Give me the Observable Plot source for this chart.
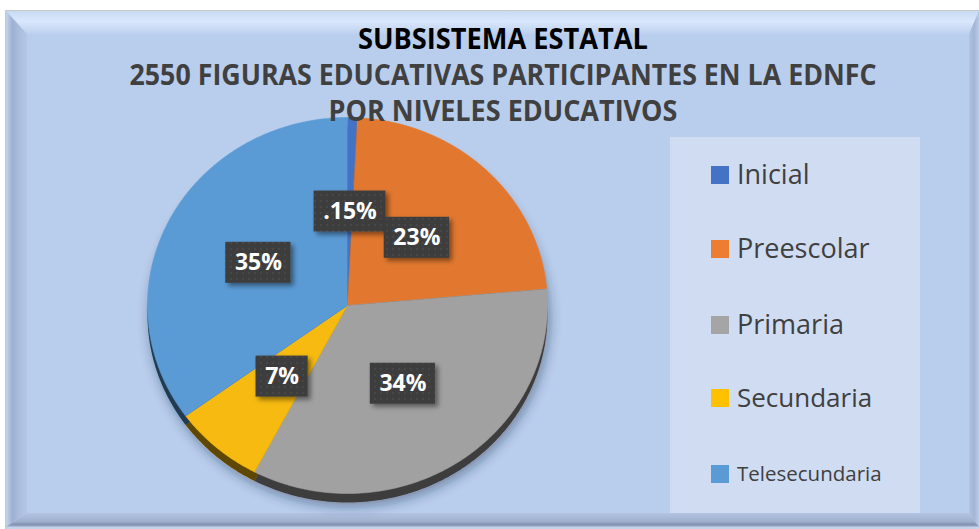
<!DOCTYPE html>
<html><head><meta charset="utf-8">
<script src="https://cdn.jsdelivr.net/npm/d3@7"></script>
<script src="https://cdn.jsdelivr.net/npm/@observablehq/plot@0.6"></script>
<style>
html,body{margin:0;padding:0;background:#fff;}
#chart{position:relative;width:979px;height:529px;overflow:hidden;}
#chart svg{position:absolute;left:0;top:0;}
</style></head><body><div id="chart"></div>
<script>
// ---- data ----
const categories = ["Inicial", "Preescolar", "Primaria", "Secundaria", "Telesecundaria"];
const shares = [0.8, 22.8, 34.1, 7.3, 35.0];            // slice sizes (%)
const labels = [".15%", "23%", "34%", "7%", "35%"];     // data label texts as printed
const legendColors = ["#4472c4", "#ed7d31", "#a5a5a5", "#ffc000", "#5b9bd5"];
const sliceColors = ["#4472c4", "#e2782f", "#a1a1a1", "#f6ba10", "#5b9bd5"];
const titleLines = ["SUBSISTEMA ESTATAL", "2550 FIGURAS EDUCATIVAS PARTICIPANTES EN LA EDNFC", "POR NIVELES EDUCATIVOS"];

const NS = "http://www.w3.org/2000/svg";
const chart = document.getElementById("chart");
function el(tag, attrs, parent) {
  const e = document.createElementNS(NS, tag);
  for (const k in attrs) e.setAttribute(k, attrs[k]);
  if (parent) parent.appendChild(e);
  return e;
}

// ---- background layer (frame, bevel, legend) ----
const bg = el("svg", {width: 979, height: 529, viewBox: "0 0 979 529"}, chart);
const bgDefs = el("defs", {}, bg);
function lin(id, x1, y1, x2, y2, stops) {
  const g = el("linearGradient", {id, x1, y1, x2, y2}, bgDefs);
  stops.forEach(([o, c]) => el("stop", {offset: o, "stop-color": c}, g));
}
lin("gTop", 0, 0, 0, 1, [[0, "#c9daf4"], [0.45, "#d9e7fb"], [1, "#bdd0ee"]]);
lin("gLeft", 0, 0, 1, 0, [[0, "#c4d5f0"], [0.3, "#9fb1d0"], [0.6, "#aabcdc"], [1, "#b4c7e6"]]);
lin("gBottom", 0, 0, 0, 1, [[0, "#b2c4e2"], [0.6, "#9fb1cf"], [0.85, "#7f90ae"], [1, "#b6c8e6"]]);
lin("gRight", 0, 0, 1, 0, [[0, "#b0c3e2"], [0.5, "#a3b5d4"], [1, "#b8cbea"]]);

el("rect", {x: 0, y: 0, width: 979, height: 529, fill: "#ffffff"}, bg);
el("rect", {x: 5, y: 10, width: 974, height: 519, fill: "#c8c8c8"}, bg);
const O = {x0: 6, y0: 11, x1: 979, y1: 527};
const I = {x0: 27, y0: 34, x1: 969, y1: 513};
el("rect", {x: O.x0, y: O.y0, width: O.x1 - O.x0, height: O.y1 - O.y0, fill: "#b9cdec"}, bg);
el("polygon", {points: `${O.x0},${O.y0} ${O.x1},${O.y0} ${I.x1},${I.y0} ${I.x0},${I.y0}`, fill: "url(#gTop)"}, bg);
el("polygon", {points: `${O.x0},${O.y0} ${I.x0},${I.y0} ${I.x0},${I.y1} ${O.x0},${O.y1}`, fill: "url(#gLeft)"}, bg);
el("polygon", {points: `${O.x0},${O.y1} ${I.x0},${I.y1} ${I.x1},${I.y1} ${O.x1},${O.y1}`, fill: "url(#gBottom)"}, bg);
el("polygon", {points: `${O.x1},${O.y0} ${O.x1},${O.y1} ${I.x1},${I.y1} ${I.x1},${I.y0}`, fill: "url(#gRight)"}, bg);
el("rect", {x: I.x0, y: I.y0, width: I.x1 - I.x0, height: I.y1 - I.y0, fill: "#b9cdec"}, bg);
el("rect", {x: O.x0, y: 527, width: 973, height: 2, fill: "#c4d3ea"}, bg);

// legend box + entries
el("rect", {x: 670, y: 137, width: 250, height: 376, fill: "#cfdcf2"}, bg);
const legendY = [175, 249, 325, 398, 474];
const legendSize = [27, 27, 27, 26, 20.5];
categories.forEach((c, i) => {
  el("rect", {x: 711, y: legendY[i] - 9, width: 18, height: 18, fill: legendColors[i]}, bg);
  const t = el("text", {x: 737, y: legendY[i], dy: "0.35em", fill: "#404040",
    "font-family": "Open Sans, sans-serif", "font-size": legendSize[i]}, bg);
  t.textContent = c;
});

// ---- pie (Observable Plot) ----
const rows = categories.map((name, i) => ({name, share: shares[i], label: labels[i]}));
const arcs = d3.pie().sort(null).value(d => d.share)(rows);
const slicePts = [];
const labelRows = [];
arcs.forEach(a => {
  const name = a.data.name;
  slicePts.push({name, x: 0, y: 0});
  const n = Math.max(2, Math.ceil((a.endAngle - a.startAngle) / 0.01));
  for (let k = 0; k <= n; k++) {
    const t = a.startAngle + (a.endAngle - a.startAngle) * k / n;
    slicePts.push({name, x: Math.sin(t), y: Math.cos(t)});
  }
  const m = (a.startAngle + a.endAngle) / 2;
  labelRows.push({name, label: a.data.label, lx: 0.5 * Math.sin(m), ly: 0.5 * Math.cos(m)});
});

const plot = Plot.plot({
  width: 979, height: 529, margin: 0,
  x: {domain: [-1, 1], range: [147, 547], axis: null},
  y: {domain: [-1, 1], range: [493, 117], axis: null},
  color: {domain: categories, range: sliceColors},
  style: {background: "transparent", overflow: "visible"},
  marks: [
    Plot.line(slicePts, {x: "x", y: "y", z: "name", fill: "name", stroke: "none", dy: 9}),
    Plot.line(slicePts, {x: "x", y: "y", z: "name", fill: "#000", fillOpacity: 0.62, stroke: "none", dy: 9}),
    Plot.line(slicePts, {x: "x", y: "y", z: "name", fill: "name", stroke: "name", strokeWidth: 0.6}),
    Plot.text(labelRows, {x: "lx", y: "ly", text: "label", fill: "white", fontSize: 23,
      fontWeight: "bold", fontFamily: "Open Sans, sans-serif"})
  ]
});
chart.appendChild(plot);

// defs for shadows and box pattern
const pd = el("defs", {}, null);
plot.insertBefore(pd, plot.firstChild);
pd.innerHTML = `
<filter id="pieShadow" x="-20%" y="-20%" width="140%" height="140%">
  <feDropShadow dx="2" dy="4" stdDeviation="6" flood-color="#1a2a4a" flood-opacity="0.45"/>
</filter>
<filter id="boxShadow" x="-30%" y="-30%" width="160%" height="170%">
  <feDropShadow dx="3" dy="3" stdDeviation="2.5" flood-color="#000" flood-opacity="0.45"/>
</filter>
<pattern id="dots" width="6" height="6" patternUnits="userSpaceOnUse">
  <rect width="6" height="6" fill="#3d3d3d"/>
  <circle cx="3" cy="3" r="0.8" fill="#545454"/>
</pattern>`;

const lineGroups = plot.querySelectorAll('g[aria-label="line"]');
if (lineGroups[0]) lineGroups[0].setAttribute("filter", "url(#pieShadow)");

// label boxes behind the label texts
const textGroup = plot.querySelector('g[aria-label="text"]');
if (textGroup) {
  const sx = plot.scale("x"), sy = plot.scale("y");
  const boxes = el("g", {"aria-label": "label boxes"}, null);
  textGroup.parentNode.insertBefore(boxes, textGroup);
  const texts = textGroup.querySelectorAll("text");
  texts.forEach((t, i) => {
    const w = t.getBBox().width + 18;
    const cx = sx.apply(labelRows[i].lx), cy = sy.apply(labelRows[i].ly);
    el("rect", {x: cx - w / 2, y: cy - 20.5, width: w, height: 41, fill: "url(#dots)", filter: "url(#boxShadow)"}, boxes);
  });
}

// ---- title layer (on top) ----
const fg = el("svg", {width: 979, height: 529, viewBox: "0 0 979 529", style: "pointer-events:none"}, chart);
const titleBase = [49, 85, 121];
const titleWidth = [290, 747, 349];
const titleFill = ["#000000", "#404040", "#404040"];
titleLines.forEach((s, i) => {
  const t = el("text", {x: 503, y: titleBase[i], "text-anchor": "middle", fill: titleFill[i],
    "font-family": "Open Sans, sans-serif", "font-weight": "bold", "font-size": 28.5,
    textLength: titleWidth[i], lengthAdjust: "spacingAndGlyphs"}, fg);
  t.textContent = s;
});
</script>
</body></html>
